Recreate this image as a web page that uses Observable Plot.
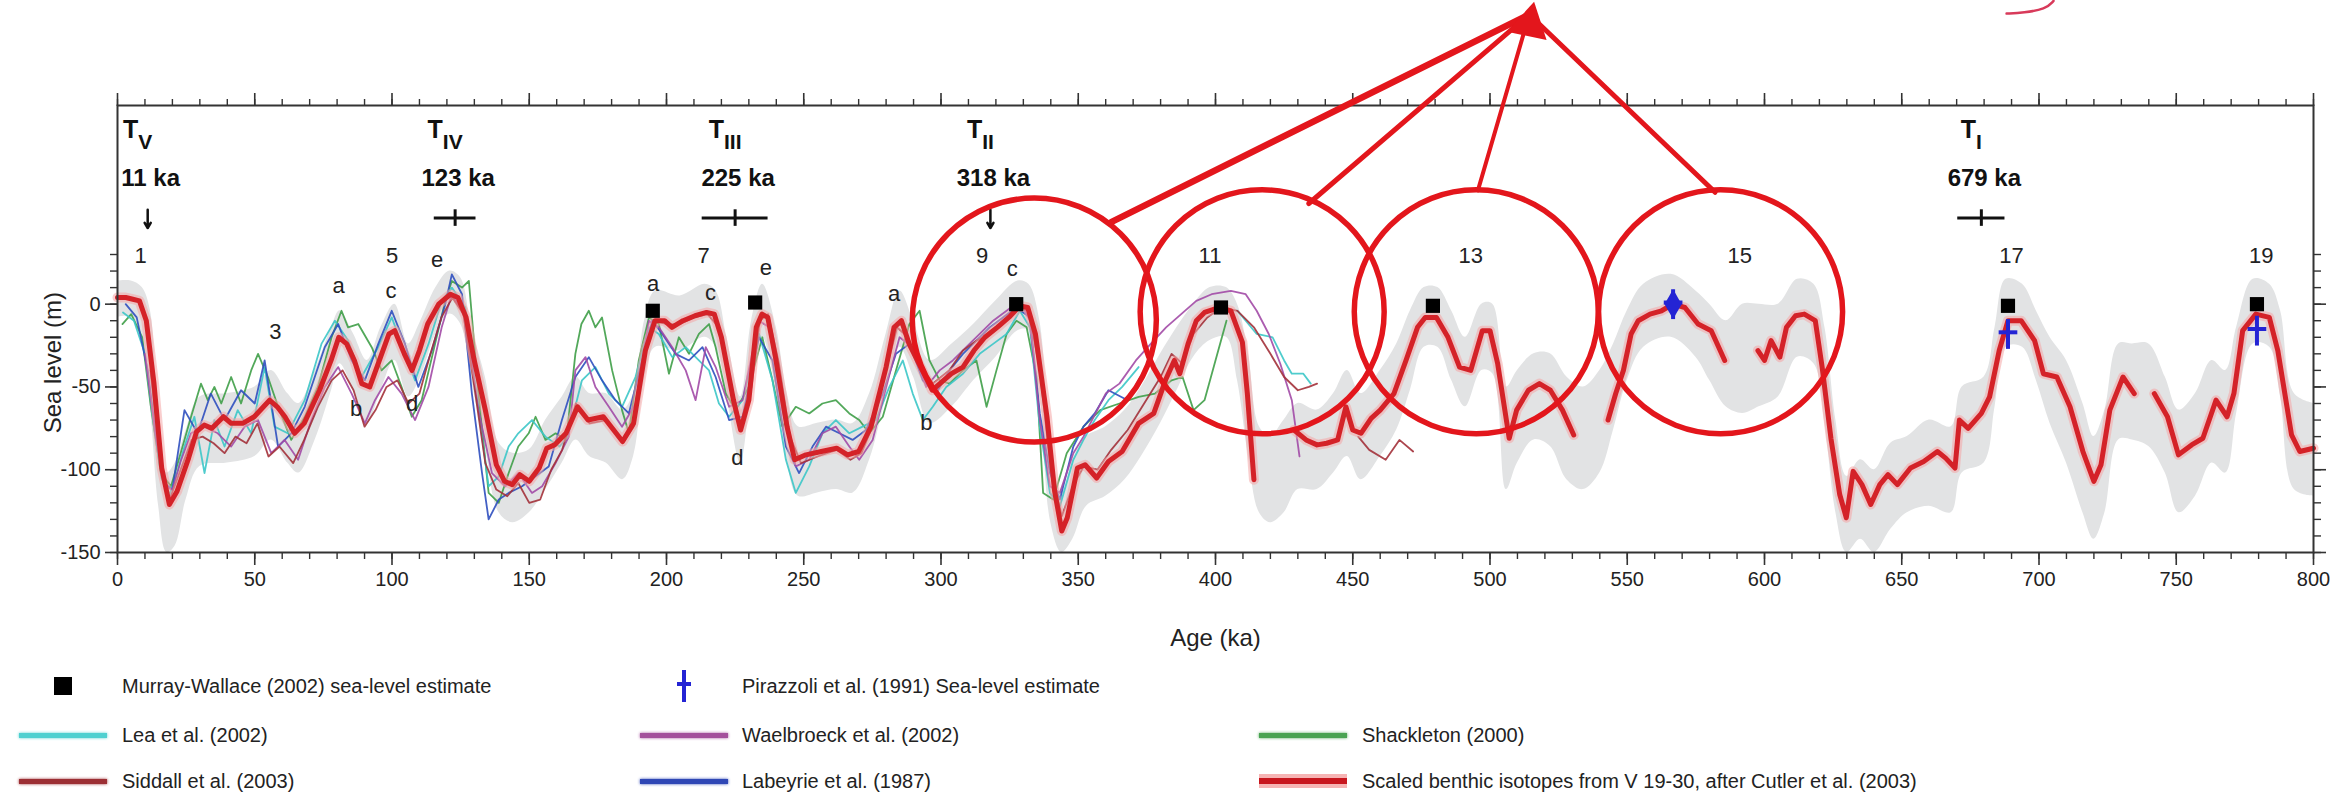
<!DOCTYPE html>
<html>
<head>
<meta charset="utf-8">
<script src="https://cdn.jsdelivr.net/npm/d3@7"></script>
<script src="https://cdn.jsdelivr.net/npm/@observablehq/plot@0.6"></script>
<style>
html,body{margin:0;padding:0;background:#fff;}
#wrap{position:relative;width:2348px;height:799px;overflow:hidden;background:#fff;font-family:"Liberation Sans",Arial,Helvetica,sans-serif;color:#222;}
#chart{position:absolute;left:0;top:0;}
.lt{position:absolute;font-size:20px;line-height:20px;white-space:nowrap;color:#222;transform:translateY(-50%);}
.ls{position:absolute;}
</style>
</head>
<body>
<div id="wrap"><div id="chart"></div><div id="legend"></div></div>
<script>
// ---------------- DATA ----------------
// Scaled benthic isotopes from V 19-30 (Cutler et al. 2003): [age ka, sea level m]; null = gap
const cutler = [
[0,4],[3,4],[5.6,3],[8,2],[10.5,-10],[13.3,-48],[16.1,-99],[18.9,-121],[21.7,-113],[25.9,-93],[28.8,-77],[31.6,-73],[34.4,-75],[38.6,-68],[41.4,-72],[45.6,-72],[49.8,-68],[55.4,-58],[58.2,-62],[61,-68],[64.5,-78],[68,-72],[73.6,-52],[77.8,-34],[80.6,-20],[83.5,-24],[86.3,-34],[89,-48],[91.9,-50],[95.4,-34],[98.9,-18],[101,-16],[104.5,-30],[107.3,-40],[110,-28],[113,-12],[117,0],[121.3,6],[124,4],[127,-8],[129.7,-32],[134,-64],[138,-97],[141,-107],[143.8,-109],[146.6,-103],[150,-107],[153.6,-99],[156.4,-87],[159.2,-85],[163.4,-78],[167.6,-62],[171.4,-70],[177,-68],[184,-83],[188,-72],[192.3,-28],[195.8,-10],[199.3,-10],[202,-14],[206,-10],[210.4,-7],[214.6,-5],[217.4,-6],[220,-20],[224.4,-58],[227,-76],[230,-58],[232.7,-14],[234.8,-6],[236.9,-8],[239.7,-32],[243.9,-74],[246.7,-94],[250.8,-91],[256.4,-89],[262,-87],[266,-91],[270,-89],[274.5,-74],[280,-38],[282.9,-14],[285.6,-10],[288.4,-24],[292.6,-38],[296.8,-52],[299.6,-48],[303.8,-42],[308,-38],[312,-28],[316,-20],[320.5,-14],[324.7,-8],[328.8,-1],[331.6,-2],[334.4,-18],[338.6,-68],[341.4,-113],[344,-137],[346,-129],[349.7,-99],[352.5,-97],[356.7,-105],[361,-95],[366,-89],[372,-72],[377.5,-66],[382,-45],[385,-34],[387,-42],[390,-24],[393,-10],[396,-5],[401.5,-2],[405.6,-4],[409.8,-23],[411.6,-54],[414,-106],[416,null],
[428.6,-76],[433,-82],[437,-85],[440.5,-84],[444.5,-82],[447.5,-62],[450,-76],[453,-78],[456.7,-69],[460,-64],[465,-54],[469.4,-34],[473.6,-14],[476.4,-8],[480.5,-8],[484.7,-20],[488.9,-38],[493,-40],[497.2,-16],[500,-16],[502.8,-36],[507,-81],[509.7,-64],[514,-52],[518,-48],[522,-52],[526.4,-64],[530.5,-79],[536,null],
[543,-70],[545.8,-54],[548.6,-40],[551.4,-18],[554,-10],[558.3,-6],[562.5,-4],[566.7,0],[571,-2],[575.8,-12],[580.6,-16],[585.5,-34],[590,null],
[597.6,-28],[600,-34],[602.4,-22],[605.6,-32],[608,-14],[611.3,-7],[614.5,-6],[618.5,-10],[621,-38],[624.2,-81],[627.4,-115],[629.8,-129],[632.3,-101],[635.5,-109],[638.7,-121],[642,-109],[645,-103],[648.4,-109],[653.2,-99],[658,-95],[663,-89],[666,-93],[669.4,-99],[671,-70],[674.2,-75],[679,-66],[682,-56],[685.5,-28],[688.7,-10],[693.5,-10],[698.4,-22],[701.6,-42],[706.5,-44],[711.3,-62],[716,-89],[720,-107],[722.6,-97],[725.8,-64],[730.6,-44],[734.7,-54],[738,null],
[742,-54],[746.8,-68],[750.8,-91],[755.6,-85],[759.7,-81],[764.5,-58],[768.5,-68],[771,-54],[774.2,-16],[779,-6],[783.9,-8],[787,-28],[792,-79],[795,-89],[800,-87]
];

// Grey uncertainty envelope: [age, low, high]
const envelope = [
[0,-8,14],[5,-8,14],[9,-22,10],[12,-62,-4],[15,-122,-72],[18,-150,-102],[21,-146,-96],[25,-118,-76],[30,-98,-56],[40,-96,-54],[50,-92,-50],[56,-82,-40],[62,-96,-54],[66,-102,-60],[72,-82,-40],[78,-52,-14],[81,-36,-4],[86,-52,-18],[91,-72,-34],[96,-52,-14],[101,-34,0],[106,-56,-24],[110,-46,-12],[116,-18,10],[121,-6,20],[125,-12,16],[129,-46,-14],[134,-86,-44],[139,-126,-84],[144,-132,-90],[150,-126,-88],[156,-112,-70],[162,-96,-56],[167,-82,-44],[172,-92,-54],[178,-96,-54],[184,-106,-64],[188,-92,-54],[192,-46,-10],[196,-26,8],[205,-28,5],[214,-20,12],[218,-26,8],[222,-56,-20],[227,-96,-56],[231,-52,-10],[235,-20,12],[240,-52,-14],[244,-96,-54],[248,-116,-74],[255,-114,-72],[262,-112,-70],[268,-114,-72],[274,-94,-54],[280,-56,-18],[285,-26,8],[290,-44,-10],[296,-72,-34],[304,-62,-24],[312,-46,-12],[320,-32,2],[328,-16,14],[332,-16,12],[336,-52,-10],[340,-132,-84],[344,-150,-114],[348,-142,-94],[353,-122,-80],[360,-116,-74],[367,-106,-64],[373,-92,-50],[380,-72,-30],[386,-52,-14],[392,-32,0],[398,-22,10],[404,-20,10],[408,-46,0],[412,-92,-30],[416,-126,-74],[420,-132,-80],[425,-126,-70],[430,-112,-60],[437,-112,-64],[443,-102,-54],[448,-92,-40],[453,-106,-54],[460,-92,-40],[466,-76,-24],[471,-52,-4],[476,-26,10],[481,-26,10],[486,-46,-4],[491,-62,-20],[497,-40,0],[501,-42,0],[506,-112,-50],[510,-96,-40],[516,-82,-30],[522,-86,-30],[528,-106,-44],[534,-112,-50],[540,-102,-40],[545,-76,-24],[550,-46,-4],[556,-26,12],[566,-20,18],[575,-32,8],[580,-46,0],[586,-62,-10],[592,-66,0],[598,-62,0],[605,-56,0],[612,-32,15],[618,-36,12],[622,-72,-14],[626,-126,-70],[630,-150,-104],[635,-142,-94],[640,-150,-100],[646,-136,-84],[652,-126,-80],[660,-122,-70],[668,-126,-74],[672,-102,-50],[680,-96,-44],[684,-62,-14],[688,-26,15],[694,-26,12],[699,-46,-4],[704,-72,-20],[710,-96,-34],[716,-126,-60],[720,-142,-80],[724,-126,-64],[729,-82,-24],[734,-82,-24],[740,-86,-24],[746,-102,-44],[751,-126,-64],[757,-116,-54],[763,-96,-34],[768,-102,-40],[772,-66,-14],[778,-24,15],[784,-26,12],[788,-56,-4],[793,-112,-54],[800,-116,-60]
];

const lea = [
[2,-5],[6,-10],[10,-30],[13,-70],[16,-105],[19,-115],[22,-100],[24.4,-86],[28,-68],[31.7,-102],[35.3,-70],[39,-86],[43.8,-64],[48.7,-78],[53.6,-38],[57.2,-74],[62,-78],[68.2,-58],[74.3,-24],[79.2,-10],[84,-22],[88.9,-44],[95,-26],[99.9,-8],[103.5,-24],[108.4,-46],[113.3,-24],[118.1,2],[121.8,10],[126.7,-2],[131.5,-64],[135.2,-110],[138.9,-104],[142.5,-86],[146,-78],[151,-70],[155.9,-80],[161,-86],[164,-80],[169.2,-46],[174.1,-38],[179,-54],[183.8,-62],[188.7,-44],[193.6,-14],[197.2,-18],[202.1,-32],[207,-26],[211.8,-34],[215.5,-40],[219.1,-60],[222.8,-68],[227.7,-58],[233.7,-18],[238.6,-46],[243.5,-94],[247.1,-114],[252,-98],[256.8,-78],[261.7,-70],[266.6,-78],[271.4,-74],[276.3,-70],[281.2,-50],[286.1,-34],[289.7,-54],[293.4,-70],[297,-62],[301.9,-50],[308,-42],[314.1,-30],[319,-24],[323.9,-18],[328.7,-4],[332.4,-14],[336,-74],[339.7,-114],[343.3,-122],[348.2,-94],[351.9,-82],[356,-70],[361,-58],[366,-50],[372,-38],[374,null],
[408,-4],[415,-18],[420.8,-20],[425,-34],[427.8,-42],[432,-42],[434.7,-48]
];

const waelbroeck = [
[10,-30],[14,-80],[17,-110],[20,-112],[23,-95],[26.8,-78],[31.7,-74],[36.5,-78],[41.4,-86],[46.3,-74],[51.2,-70],[56,-90],[60.9,-82],[65.8,-94],[70.6,-70],[75.5,-50],[80.4,-38],[85.3,-54],[90.1,-72],[93.8,-58],[98.7,-44],[103.5,-54],[108.4,-70],[113.3,-50],[118.1,-14],[121.8,6],[126.7,-8],[131.5,-64],[136.4,-102],[141.3,-110],[146,-102],[151,-114],[154.7,-110],[159.6,-96],[164.4,-80],[166.8,-40],[170.5,-32],[174.1,-50],[179,-62],[183.8,-74],[188.7,-60],[193.6,-10],[197.2,-14],[202.1,-26],[207,-40],[210.6,-58],[214.3,-26],[217.9,-38],[222.8,-62],[227.7,-58],[233.7,-10],[237.4,-14],[242.2,-64],[247.1,-98],[252,-94],[256.8,-78],[261.7,-74],[266.6,-86],[270.2,-94],[275.1,-82],[280,-50],[284.9,-20],[289.7,-26],[294.6,-50],[299.5,-40],[304.3,-34],[309.2,-26],[314.1,-18],[319,-10],[323.9,-4],[328.7,2],[332.4,-10],[336,-70],[339.7,-110],[343.3,-114],[348.2,-90],[351.9,-80],[360,-54],[365,-48],[371,-34],[376.4,-24],[382,-14],[387.5,-6],[393,2],[398.6,6],[405.6,8],[411,6],[415,-4],[419.4,-18],[423.6,-36],[427.8,-58],[430.6,-92]
];

const shackleton = [
[1.8,-12],[5,-6],[9,-20],[12,-60],[15.8,-102],[19.5,-110],[23,-90],[26.8,-68],[30.4,-48],[32.9,-58],[35.3,-50],[37.8,-60],[41.4,-44],[45,-60],[48.7,-40],[51.2,-30],[54.8,-44],[58.5,-62],[63.3,-82],[68.2,-68],[73,-50],[78,-20],[81.6,-4],[84,-14],[87.7,-12],[92.6,-26],[96.2,-40],[99.9,-34],[103.5,-50],[107.2,-68],[110.8,-58],[115.7,-24],[119.4,2],[121.8,14],[125.5,10],[128,14],[131.5,-54],[135.2,-114],[138.9,-120],[142.5,-102],[146,-86],[149.8,-78],[152.3,-68],[155.9,-82],[159.6,-78],[163.5,-82],[166.8,-30],[169,-12],[171.7,-4],[174.1,-14],[176.5,-8],[180.2,-40],[183.8,-64],[186.3,-78],[189.9,-34],[193.6,-8],[197.2,-12],[200.9,-42],[204.5,-20],[208.2,-30],[211.8,-18],[215.5,-12],[217.9,-26],[221.6,-54],[225.2,-64],[230,-50],[234.9,-20],[238.6,-46],[242.2,-74],[247.1,-62],[252,-66],[256.8,-60],[261.7,-58],[266.6,-66],[270.2,-70],[273.9,-78],[278.8,-68],[283.6,-40],[288.5,-12],[292.2,-4],[295.8,-34],[299.5,-46],[303.1,-48],[308,-40],[312.9,-34],[316.6,-62],[320.2,-40],[323.9,-18],[327.5,-10],[331.2,-14],[334.8,-44],[337.2,-114],[340.9,-118],[345.8,-90],[351.9,-74],[358,-64],[365,-60],[372,-56],[378,-54],[384,-46],[388,-44],[392,-64],[396,-58],[401,-28],[404,-10]
];

const siddall = [
[12,-40],[16,-100],[19,-118],[23,-100],[27,-82],[31,-80],[35,-84],[39,-90],[43,-80],[47,-84],[51,-72],[55,-92],[59,-86],[64,-96],[68,-82],[73,-62],[78,-46],[82,-40],[86,-52],[90,-74],[94,-64],[98,-50],[102,-46],[106,-60],[110,-54],[114,-30],[118,-8],[122,4],[126,-6],[130,-50],[134,-96],[138,-112],[142,-116],[146,-108],[150,-120],[154,-118],[158,-100],[162,-88],[167,-60],[172,-72],[178,-70],[184,-84],[188,-74],[192,-30],[196,-10],[200,-12],[205,-12],[210,-8],[215,-6],[219,-14],[224,-54],[227,-72],[231,-50],[234,-10],[237,-6],[241,-36],[245,-80],[249,-96],[255,-92],[262,-88],[267,-94],[271,-90],[275,-74],[280,-40],[284,-14],[288,-20],[292,-36],[297,-48],[303,-40],[308,-28],[313,-22],[318,-18],[323,-10],[328,-2],[332,-4],[336,-40],[340,-100],[344,-128],[348,-110],[352,-98],[357,-100],[362,-88],[368,-76],[374,-60],[380,-44],[384,-30],[388,-36],[392,-18],[397,-8],[402,-2],[408,-4],[414,-14],[420,-30],[425,-44],[430,-52],[434,-50],[437,-48],[444,null],
[452,-80],[456,-88],[462,-94],[467,-82],[472,-89]
];

const labeyrie = [
[3,0],[7,-8],[11,-40],[14,-80],[17,-108],[20,-112],[22,-90],[24.4,-64],[29.2,-78],[34,-54],[39,-70],[45,-52],[50,-60],[53.6,-34],[58.5,-86],[63.3,-78],[68.2,-62],[75.5,-26],[80.4,-12],[85.3,-34],[90.1,-46],[95,-24],[99.9,-4],[104.7,-24],[109.6,-50],[114.5,-28],[119.4,0],[121.8,18],[125.5,6],[129.1,-54],[132.8,-102],[135.2,-130],[138.9,-118],[142.5,-114],[147.4,-110],[152.3,-104],[157.1,-98],[161.9,-70],[166.8,-44],[171.7,-32],[176.5,-46],[181.4,-58],[186.3,-66],[191.1,-34],[194.8,-10],[198.5,-18],[203.3,-30],[208.2,-34],[213.1,-26],[217.9,-44],[222.8,-70],[227.7,-68],[233.7,-20],[238.6,-34],[243.5,-86],[248.3,-102],[253.2,-86],[258.1,-74],[263,-78],[267.8,-82],[272.7,-76],[278.8,-54],[283.6,-30],[288.5,-24],[293.4,-46],[298.2,-54],[303.1,-40],[308,-30],[312.9,-22],[317.8,-14],[322.6,-8],[327.5,-2],[332.4,-8],[336,-66],[339.7,-102],[343.3,-118],[348.2,-86],[351.9,-74],[356,-66],[361,-52],[368,-58],[374,-40]
];

// Murray-Wallace (2002) estimates
const mwAges = [195, 232.3, 327.4, 402, 479.2, 688.7, 779.4];
const mwLevels = [-4, 1, 0, -2, -1, -1, 0];
// Pirazzoli et al. (1991) estimates
const pzAges = [566.7, 688.7, 779.4];
const pzLevels = [0, -18, -16];

// Marine isotope stages
const misNames = ["1","3","5","7","9","11","13","15","17","19"];
const misAges = [8.4, 57.5, 100, 213.5, 315, 398, 493, 591, 690, 781];
const misLevels = [29, -17, 29, 29, 29, 29, 29, 29, 29, 29];
// Sub-stages
const subNames = ["a","b","c","d","e","a","c","d","e","a","b","c"];
const subAges = [80.6, 86.9, 99.6, 107.3, 116.4, 195.1, 216, 225.8, 236.2, 282.9, 294.7, 326];
const subLevels = [11, -63, 8, -60, 27, 12, 7, -93, 22, 6, -72, 21];

// Terminations
const termRoman = ["V","IV","III","II","I"];
const termAges = [11, 123, 225, 318, 679];
const termErr = [null, 7.6, 12, null, 8.6];

// Hand-drawn callouts (centres in ka / m)
const calloutCentres = [[334,-9.6],[417,-4.6],[495,-4.6],[584,-4.6]];
const calloutFrom = [[362,49.6],[434,60.8],[495.6,68.7],[582,67.6]];
const calloutApex = [514.3,175];
const squiggle = [[705.3,183.2],[702.4,178.1],[694.4,176.1],[688.2,175.5]];

// Axis ticks
const xMajor = d3.range(0, 801, 50);
const xMinor = d3.range(0, 801, 10);
const yMajor = [-150, -100, -50, 0];
const yMinor = d3.range(-150, 31, 10);

// Legend
const legendItems = [
  {label: "Murray-Wallace (2002) sea-level estimate", kind: "square", row: 0, col: 0},
  {label: "Pirazzoli et al. (1991) Sea-level estimate", kind: "cross", row: 0, col: 1},
  {label: "Lea et al. (2002)", kind: "line", color: "#4fd0d0", row: 1, col: 0},
  {label: "Waelbroeck et al. (2002)", kind: "line", color: "#a4509c", row: 1, col: 1},
  {label: "Shackleton (2000)", kind: "line", color: "#4aa352", row: 1, col: 2},
  {label: "Siddall et al. (2003)", kind: "line", color: "#9c2f34", row: 2, col: 0},
  {label: "Labeyrie et al. (1987)", kind: "line", color: "#2f47b5", row: 2, col: 1},
  {label: "Scaled benthic isotopes from V 19-30, after Cutler et al. (2003)", kind: "thick", row: 2, col: 2}
];

// ---------------- BUILD ----------------
const pts = arr => arr.map(([age, level]) => ({age, level}));
const band = envelope.map(([age, lo, hi]) => ({age, lo, hi}));
const mw = mwAges.map((a, i) => ({age: a, level: mwLevels[i]}));
const pz = pzAges.map((a, i) => ({age: a, level: pzLevels[i]}));
const mis = misNames.map((n, i) => ({name: n, age: misAges[i], level: misLevels[i]}));
const subs = subNames.map((n, i) => ({name: n, age: subAges[i], level: subLevels[i]}));
const terms = termRoman.map((r, i) => ({roman: r, age: termAges[i], err: termErr[i]}));
const circles = calloutCentres.map(([age, level]) => ({age, level}));
const arrows = calloutFrom.map(([age, level], i) => ({age, level, i}));
const apex = [{age: calloutApex[0], level: calloutApex[1]}];

const thin = [
  [shackleton, "#3f9f48"],
  [lea, "#3cc6c8"],
  [labeyrie, "#2f4fbf"],
  [waelbroeck, "#a24aa6"],
  [siddall, "#a3313a"]
];

const RED = "#e3161c";
const AX = "#333";
const BLUE = "#2424d4";

const chart = Plot.plot({
  width: 2348,
  height: 665,
  marginLeft: 117,
  marginRight: 35,
  marginTop: 105,
  marginBottom: 113,
  x: {domain: [0, 800]},
  y: {domain: [-150, 120]},
  style: {fontFamily: '"Liberation Sans", Arial, Helvetica, sans-serif', fontSize: "20px", color: "#222", background: "white", overflow: "visible"},
  marks: [
    Plot.areaY(band, {x: "age", y1: "lo", y2: "hi", fill: "#e2e3e4", curve: "catmull-rom"}),
    ...thin.map(([s, c]) => Plot.line(pts(s), {x: "age", y: "level", stroke: c, strokeWidth: 1.8, strokeOpacity: 0.9})),
    Plot.line(pts(cutler), {x: "age", y: "level", stroke: "#f4a6a6", strokeWidth: 10, strokeOpacity: 0.55}),
    Plot.line(pts(cutler), {x: "age", y: "level", stroke: "#d42228", strokeWidth: 5}),
    Plot.dot(mw, {x: "age", y: "level", symbol: "square", r: 8, fill: "#000"}),
    Plot.link(pz, {x1: "age", x2: "age", y1: d => d.level - 9, y2: d => d.level + 9, stroke: BLUE, strokeWidth: 4}),
    Plot.link(pz, {x1: d => d.age - 3.4, x2: d => d.age + 3.4, y1: d => d.level + 1, y2: d => d.level + 1, stroke: BLUE, strokeWidth: 4}),
    Plot.dot(pz, {filter: (d, i) => i === 0, x: "age", y: "level", symbol: "diamond", r: 9, fill: BLUE}),
    // stage labels
    Plot.text(mis, {x: "age", y: "level", text: "name", fontSize: 22, fill: "#222"}),
    Plot.text(subs, {x: "age", y: "level", text: "name", fontSize: 22, fill: "#222"}),
    // terminations
    Plot.text(terms, {x: "age", y: 100.6, text: d => "T" + d.roman, textAnchor: "middle", lineAnchor: "bottom", dx: -10, fontSize: 25, fontWeight: "bold", fill: "#111"}),
    Plot.text(terms, {x: "age", y: 71.4, text: d => d.age + " ka", textAnchor: "middle", lineAnchor: "bottom", dx: 3, fontSize: 24, fontWeight: "bold", fill: "#111"}),
    Plot.ruleY(terms.filter(d => d.err != null), {y: 52, x1: d => d.age - d.err, x2: d => d.age + d.err, stroke: "#111", strokeWidth: 3}),
    Plot.ruleX(terms.filter(d => d.err != null), {x: "age", y1: 47, y2: 57, stroke: "#111", strokeWidth: 3}),
    Plot.arrow(terms.filter(d => d.err == null), {x1: "age", x2: "age", y1: 57, y2: 46, stroke: "#111", strokeWidth: 2.5, headLength: 6}),
    // axes
    Plot.axisX({anchor: "bottom", ticks: xMajor, tickSize: 13, tickPadding: 6, fontSize: 20, tickFormat: d => String(d), label: null, stroke: AX, strokeWidth: 1.6}),
    Plot.axisX({anchor: "bottom", ticks: xMinor, tickSize: 7, fill: "none", label: null, stroke: AX, strokeWidth: 1.4}),
    Plot.axisX({anchor: "top", ticks: xMajor, tickSize: 13, fill: "none", label: null, stroke: AX, strokeWidth: 1.6}),
    Plot.axisX({anchor: "top", ticks: xMinor, tickSize: 7, fill: "none", label: null, stroke: AX, strokeWidth: 1.4}),
    Plot.axisY({anchor: "left", ticks: yMajor, tickSize: 12, tickPadding: 5, fontSize: 20, tickFormat: d => String(d), label: null, stroke: AX, strokeWidth: 1.6}),
    Plot.axisY({anchor: "left", ticks: yMinor, tickSize: 7, fill: "none", label: null, stroke: AX, strokeWidth: 1.4}),
    Plot.axisY({anchor: "right", ticks: yMajor, tickSize: 12, fill: "none", label: null, stroke: AX, strokeWidth: 1.6}),
    Plot.axisY({anchor: "right", ticks: yMinor, tickSize: 7, fill: "none", label: null, stroke: AX, strokeWidth: 1.4}),
    Plot.frame({stroke: AX, strokeWidth: 2}),
    Plot.text(["Age (ka)"], {frameAnchor: "bottom", dy: 93, text: d => d, fontSize: 24, fill: "#222"}),
    Plot.text([-78], {y: d => d, frameAnchor: "left", dx: -64, rotate: -90, text: () => "Sea level (m)", fontSize: 24, fill: "#222"}),
    // hand-drawn callouts
    Plot.dot(circles, {x: "age", y: "level", r: 122, fill: "none", stroke: RED, strokeWidth: 5.5}),
    Plot.arrow(arrows, {x1: "age", y1: "level", x2: () => calloutApex[0], y2: () => calloutApex[1], stroke: RED, strokeWidth: d => [6.5, 5, 4, 5][d.i], headLength: 0}),
    Plot.dot(apex, {x: "age", y: "level", symbol: "triangle", r: 15, fill: RED, rotate: 12, dy: 10}),
    Plot.line(pts(squiggle), {x: "age", y: "level", stroke: "#d83a5a", strokeWidth: 2.5, curve: "basis"})
  ]
});

// subscript the termination numerals
const NS = "http://www.w3.org/2000/svg";
chart.querySelectorAll("text").forEach(t => {
  const m = /^T(IV|V|I{1,3})$/.exec(t.textContent);
  if (m) {
    t.textContent = "";
    const a = document.createElementNS(NS, "tspan");
    a.textContent = "T";
    const b = document.createElementNS(NS, "tspan");
    b.textContent = m[1];
    b.setAttribute("dy", "11");
    b.setAttribute("font-size", "21");
    t.append(a, b);
  }
});
document.getElementById("chart").append(chart);

// legend
const colSym = [63, 684, 1303];
const colText = [122, 742, 1362];
const rowY = [686, 735, 781];
const lg = document.getElementById("legend");
legendItems.forEach(it => {
  const cx = colSym[it.col], cy = rowY[it.row];
  const add = (css) => { const d = document.createElement("div"); d.className = "ls"; Object.assign(d.style, css); lg.append(d); };
  if (it.kind === "square") add({left: (cx - 9) + "px", top: (cy - 9) + "px", width: "18px", height: "18px", background: "#000"});
  if (it.kind === "cross") {
    add({left: (cx - 2) + "px", top: (cy - 16) + "px", width: "4px", height: "32px", background: BLUE});
    add({left: (cx - 7) + "px", top: (cy - 4) + "px", width: "14px", height: "4px", background: BLUE});
  }
  if (it.kind === "line") add({left: (cx - 44) + "px", top: (cy - 2.5) + "px", width: "88px", height: "5px", background: it.color, boxShadow: `0 0 3px ${it.color}`});
  if (it.kind === "thick") {
    add({left: (cx - 44) + "px", top: (cy - 7) + "px", width: "88px", height: "14px", background: "#f6b4b4"});
    add({left: (cx - 44) + "px", top: (cy - 3) + "px", width: "88px", height: "6px", background: "#c8161e"});
  }
  const t = document.createElement("div");
  t.className = "lt";
  t.style.left = colText[it.col] + "px";
  t.style.top = cy + "px";
  t.textContent = it.label;
  lg.append(t);
});
</script>
</body>
</html>
